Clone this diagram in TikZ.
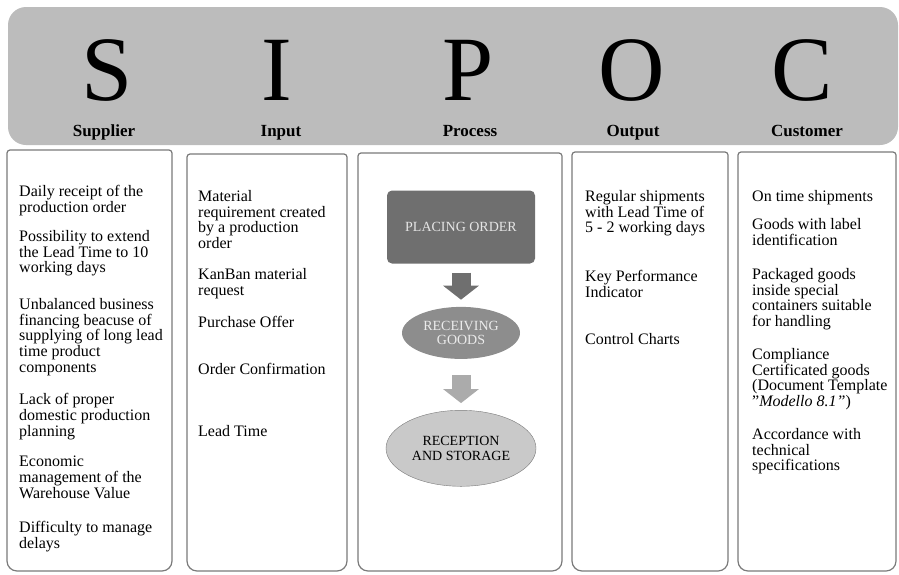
\documentclass[tikz,border=0pt]{standalone}
\usepackage{fontspec}
\setmainfont{Liberation Serif}
\usepackage{xcolor}
\definecolor{bannergray}{HTML}{BCBCBC}
\definecolor{framegray}{HTML}{7A7A7A}
\definecolor{stepdark}{HTML}{6F6F6F}
\definecolor{stepmid}{HTML}{8D8D8D}
\definecolor{steplight}{HTML}{C9C9C9}
\definecolor{arrowlight}{HTML}{ABABAB}
\usepackage{tikz}
\usetikzlibrary{shapes,arrows,arrows.meta,positioning}

\begin{document}
\begin{tikzpicture}[
        x=1pt, y=-1pt,
        letter/.style={anchor=base, inner sep=0pt, font=\fontsize{92}{92}\selectfont},
        head/.style={anchor=base, inner sep=0pt, font=\bfseries\fontsize{17}{17}\selectfont},
        colframe/.style={draw=framegray, line width=1.2pt},
        item/.style={anchor=north west, inner sep=0pt, align=left, font=\fontsize{16}{15.8}\selectfont},
        stepbox/.style={rectangle, rounded corners=5pt, fill=stepdark, text=white!90!black, minimum width=148pt, minimum height=73pt, font=\fontsize{14}{14}\selectfont},
        stepell/.style={ellipse, align=center, inner sep=0pt, font=\fontsize{14}{14.5}\selectfont},
        arrow/.style={line width=19pt, -{Triangle[length=14pt, width=35pt]}}
    ]
        \useasboundingbox (0,0) rectangle (899,574);

        % banner with the five letters
        \fill[bannergray, rounded corners=18pt] (8,7) rectangle (898,145);
        \foreach \ch/\lx/\hd/\hx/\nm in {S/107/Supplier/104/sup, I/277/Input/281/inp, P/468/Process/470/proc, O/632/Output/633/outp, C/802/Customer/807/cust} {
            \node[letter] (\nm) at (\lx,100) {\ch};
            \node[head] (\nm-head) at (\hx,136) {\hd};
        }

        % column frames
        \foreach \xa/\xb/\yt in {7/172/150, 187/347/154, 358/562/153, 572/728/152, 738/896/152}
            \draw[colframe] ({(\xa+\xb)/2},\yt) [rounded corners=3pt] -- (\xa,\yt) [rounded corners=10pt] -- (\xa,571) -- (\xb,571) [rounded corners=3pt] -- (\xb,\yt) -- cycle;

        % supplier
        \node[item] (sup1) at (19,185) {Daily receipt of the\\production order};
        \node[item] (sup2) at (19,230) {Possibility to extend\\the Lead Time to 10\\working days};
        \node[item] (sup3) at (19,298) {Unbalanced business\\financing beacuse of\\supplying of long lead\\time product\\components};
        \node[item] (sup4) at (19,393) {Lack of proper\\domestic production\\planning};
        \node[item] (sup5) at (19,456) {Economic\\management of the\\Warehouse Value};
        \node[item] (sup6) at (19,521) {Difficulty to manage\\delays};

        % input
        \node[item] (inp1) at (198,190) {Material\\requirement created\\by a production\\order};
        \node[item] (inp2) at (198,268) {KanBan material\\request};
        \node[item] (inp3) at (198,316) {Purchase Offer};
        \node[item] (inp4) at (198,363) {Order Confirmation};
        \node[item] (inp5) at (198,425) {Lead Time};

        % process
        \node[stepbox] (placing) at (461,227) {PLACING ORDER};
        \node[stepell, fill=stepmid, text=white!92!black, minimum width=118pt, minimum height=52pt, below=43pt of placing] (receiving) {RECEIVING\\GOODS};
        \node[stepell, fill=steplight, draw=framegray, thin, minimum width=150pt, minimum height=76pt, below=51pt of receiving] (storage) {RECEPTION\\AND STORAGE};

        \draw[arrow, stepdark, shorten <=9pt, shorten >=7pt] (placing) -- (receiving);
        \draw[arrow, arrowlight, shorten <=16pt, shorten >=7pt] (receiving) -- (storage);

        % output
        \node[item] (outp1) at (585,190) {Regular shipments\\with Lead Time of\\5 - 2 working days};
        \node[item] (outp2) at (585,270) {Key Performance\\Indicator};
        \node[item] (outp3) at (585,333) {Control Charts};

        % customer
        \node[item] (cust1) at (752,190) {On time shipments};
        \node[item] (cust2) at (752,218) {Goods with label\\identification};
        \node[item] (cust3) at (752,268) {Packaged goods\\inside special\\containers suitable\\for handling};
        \node[item] (cust4) at (752,348) {Compliance\\Certificated goods\\(Document Template\\"\textit{Modello 8.1"})};
        \node[item] (cust5) at (752,428) {Accordance with\\technical\\specifications};
    \end{tikzpicture}
\end{document}
